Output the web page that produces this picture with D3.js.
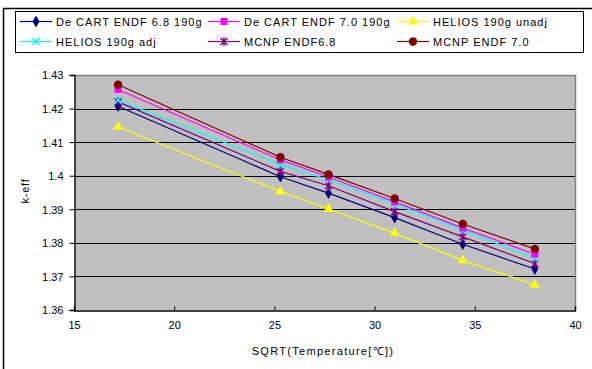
<!DOCTYPE html>
<html><head><meta charset="utf-8">
<script src="https://cdn.jsdelivr.net/npm/d3@7"></script>
<style>body{margin:0;background:#fff}svg{display:block}text{font-family:"Liberation Sans",Arial,sans-serif}</style>
</head><body><svg id="c" width="592" height="369"></svg>
<script>
const xVals = [17.2, 25.3, 27.7, 31.0, 34.4, 38.0];
const seriesNames = ["De CART ENDF 6.8 190g","De CART ENDF 7.0 190g","HELIOS 190g unadj","HELIOS 190g adj","MCNP ENDF6.8","MCNP ENDF 7.0"];
const decart68 = [1.4207, 1.3997, 1.3948, 1.3875, 1.3796, 1.3722];
const decart70 = [1.4257, 1.4047, 1.3996, 1.3922, 1.3844, 1.3766];
const heliosUnadj = [1.4145, 1.3953, 1.3901, 1.3829, 1.3748, 1.3675];
const heliosAdj = [1.4225, 1.4033, 1.3988, 1.3916, 1.3838, 1.3754];
const mcnp68 = [1.4220, 1.4013, 1.3970, 1.3893, 1.3818, 1.3738];
const mcnp70 = [1.4271, 1.4055, 1.4004, 1.3932, 1.3856, 1.3782];
const xTicks = [15, 20, 25, 30, 35, 40];
const yTicks = [1.36, 1.37, 1.38, 1.39, 1.40, 1.41, 1.42, 1.43];
const yTickLabels = ["1.36","1.37","1.38","1.39","1.4","1.41","1.42","1.43"];

const colors = ["#000080","#FF00FF","#FFFF00","#00FFFF","#800080","#800000"];
const shapes = ["diamond","square","triangle","x","star","circle"];
const allSeries = [decart68, decart70, heliosUnadj, heliosAdj, mcnp68, mcnp70];

const svg = d3.select("#c");
const L = 74, R = 575, T = 75, B = 310;
const x = d3.scaleLinear().domain([15, 40]).range([L, R]);
const y = d3.scaleLinear().domain([1.36, 1.43]).range([B, T]);

// outer frame
svg.append("rect").attr("x",3.5).attr("y",8.5).attr("width",600).attr("height",400)
  .attr("fill","none").attr("stroke","#000").attr("stroke-width",1.5);

// plot background
svg.append("rect").attr("x",L).attr("y",T).attr("width",R-L).attr("height",B-T).attr("fill","#C0C0C0");
// gridlines
svg.append("g").selectAll("line").data(yTicks.slice(1)).join("line")
  .attr("x1",L).attr("x2",R).attr("y1",d=>Math.round(y(d))+0.5).attr("y2",d=>Math.round(y(d))+0.5)
  .attr("stroke","#000").attr("stroke-width",1);
// top & right border gray
svg.append("path").attr("d",`M${L},${T+0.5}H${R+0.5}V${B}`).attr("fill","none").attr("stroke","#808080").attr("stroke-width",1.5);

// axes
const yAxis = d3.axisLeft(y).tickValues(yTicks).tickFormat((d,i)=>yTickLabels[i]).tickSize(5).tickPadding(6);
const gy = svg.append("g").attr("transform",`translate(${L+0.5},0)`).call(yAxis);
const xAxis = d3.axisBottom(x).tickValues(xTicks).tickSize(-4).tickPadding(11);
const gx = svg.append("g").attr("transform",`translate(0,${B+0.5})`).call(xAxis);
[gy,gx].forEach(g=>{
  g.select(".domain").attr("stroke","#000").attr("stroke-width",1.3);
  g.selectAll(".tick line").attr("stroke","#000");
  g.selectAll("text").attr("font-size",11).attr("fill","#000").style("font-family","'Liberation Sans',Arial,sans-serif");
});
gy.selectAll("text").attr("dy","0.35em");

// axis titles
svg.append("text").attr("x",323).attr("y",355).attr("text-anchor","middle").attr("font-size",11)
  .attr("letter-spacing","1.3").text("SQRT(Temperature[℃])");
svg.append("text").attr("transform","translate(29,191) rotate(-90)").attr("text-anchor","middle")
  .attr("font-size",11).attr("letter-spacing","0.8").text("k-eff");

function marker(g, shape, color, cx, cy){
  if(shape==="diamond"){
    g.append("path").attr("d",d3.symbol(d3.symbolDiamond,40)()).attr("transform",`translate(${cx},${cy})`).attr("fill",color);
  } else if(shape==="square"){
    g.append("rect").attr("x",cx-3.5).attr("y",cy-3.5).attr("width",7).attr("height",7).attr("fill",color);
  } else if(shape==="triangle"){
    g.append("path").attr("d",d3.symbol(d3.symbolTriangle,45)()).attr("transform",`translate(${cx},${cy})`).attr("fill",color);
  } else if(shape==="circle"){
    g.append("circle").attr("cx",cx).attr("cy",cy).attr("r",4.2).attr("fill",color);
  } else if(shape==="x"){
    g.append("path").attr("d",`M${cx-3.5},${cy-3.5}L${cx+3.5},${cy+3.5}M${cx-3.5},${cy+3.5}L${cx+3.5},${cy-3.5}`)
      .attr("stroke",color).attr("stroke-width",1.5);
  } else if(shape==="star"){
    g.append("path").attr("d",`M${cx-3.5},${cy-3.5}L${cx+3.5},${cy+3.5}M${cx-3.5},${cy+3.5}L${cx+3.5},${cy-3.5}M${cx},${cy-4.5}V${cy+4.5}`)
      .attr("stroke",color).attr("stroke-width",1.5);
  }
}

const line = d3.line().x((d,i)=>x(xVals[i])).y(d=>y(d));
allSeries.forEach((s,k)=>{
  svg.append("path").datum(s).attr("d",line).attr("fill","none").attr("stroke",colors[k]).attr("stroke-width",1.2);
});
const order = [2,0,4,3,1,5];
order.forEach(k=>{
  const g = svg.append("g");
  allSeries[k].forEach((v,i)=>marker(g, shapes[k], colors[k], x(xVals[i]), y(v)));
});

// legend
svg.append("rect").attr("x",15.5).attr("y",11.5).attr("width",568).attr("height",41).attr("fill","#fff").attr("stroke","#000").attr("stroke-width",1);
const legX = [20, 208, 397];
const legOrder = [0,1,2,3,4,5];
legOrder.forEach((k,i)=>{
  const col = i%3, row = Math.floor(i/3);
  const lx = legX[col], ly = row===0 ? 21.5 : 41.5;
  const g = svg.append("g");
  g.append("line").attr("x1",lx).attr("x2",lx+32).attr("y1",ly).attr("y2",ly).attr("stroke",colors[k]).attr("stroke-width",1.2);
  marker(g, shapes[k], colors[k], lx+16, ly);
  g.append("text").attr("x",lx+36).attr("y",ly+4).attr("font-size",11).attr("letter-spacing","1").text(seriesNames[k]);
});
</script></body></html>
